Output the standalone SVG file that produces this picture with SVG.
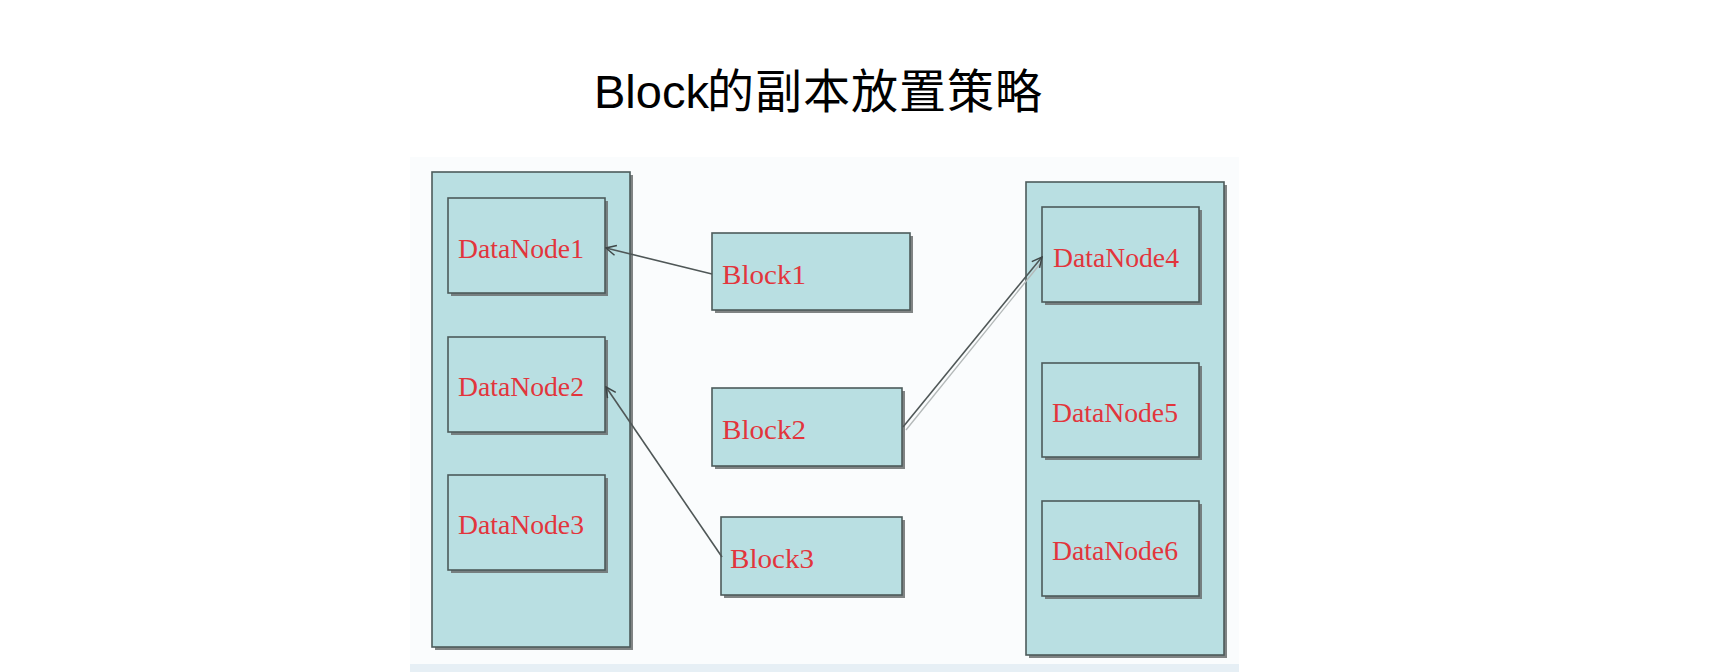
<svg xmlns="http://www.w3.org/2000/svg" width="1736" height="672" viewBox="0 0 1736 672">
<style>
.box{fill:#b9dfe2;stroke:#4d5b5b;stroke-width:1.6}
.shadow{fill:#6a6f6f;opacity:0.85}
.lbl{font-family:"Liberation Serif","DejaVu Serif",serif;font-size:28px;fill:#e2353c}
.edge{stroke:#4f5757;stroke-width:1.6;fill:none}
.title{font-family:"Liberation Sans","Noto Sans CJK SC",sans-serif;fill:#000}
</style>
<defs>
<marker id="arr" viewBox="0 0 12 12" refX="11" refY="6" markerWidth="12" markerHeight="12" markerUnits="userSpaceOnUse" orient="auto">
<path d="M1,1 L11,6 L1,11" fill="none" stroke="#3f4747" stroke-width="1.5"/>
</marker>
</defs>
<rect x="0" y="0" width="1736" height="672" fill="#ffffff"/>
<rect x="410" y="157" width="829" height="515" fill="#fafcfd"/>
<rect x="410" y="664" width="829" height="8" fill="#e6eff5"/>
<text class="title" x="594" y="108" font-size="47">Block</text>
<text class="title" y="108" font-size="47" font-family="'Noto Sans CJK SC',sans-serif" x="707 755 803 851 899 947 995">的副本放置策略</text>

<g id="rack1">
<rect class="shadow" x="435" y="175" width="198" height="475"/>
<rect class="box" x="432" y="172" width="198" height="475"/>
</g>
<g id="rack2">
<rect class="shadow" x="1029" y="185" width="198" height="473"/>
<rect class="box" x="1026" y="182" width="198" height="473"/>
</g>
<g id="datanode1">
<rect class="shadow" x="451" y="201" width="157" height="95"/>
<rect class="box" x="448" y="198" width="157" height="95"/>
<text class="lbl" x="458" y="258" textLength="126" lengthAdjust="spacingAndGlyphs">DataNode1</text>
</g>
<g id="datanode2">
<rect class="shadow" x="451" y="340" width="157" height="95"/>
<rect class="box" x="448" y="337" width="157" height="95"/>
<text class="lbl" x="458" y="396" textLength="126" lengthAdjust="spacingAndGlyphs">DataNode2</text>
</g>
<g id="datanode3">
<rect class="shadow" x="451" y="478" width="157" height="95"/>
<rect class="box" x="448" y="475" width="157" height="95"/>
<text class="lbl" x="458" y="534" textLength="126" lengthAdjust="spacingAndGlyphs">DataNode3</text>
</g>
<g id="datanode4">
<rect class="shadow" x="1045" y="210" width="157" height="95"/>
<rect class="box" x="1042" y="207" width="157" height="95"/>
<text class="lbl" x="1053" y="267" textLength="126" lengthAdjust="spacingAndGlyphs">DataNode4</text>
</g>
<g id="datanode5">
<rect class="shadow" x="1045" y="366" width="157" height="94"/>
<rect class="box" x="1042" y="363" width="157" height="94"/>
<text class="lbl" x="1052" y="422" textLength="126" lengthAdjust="spacingAndGlyphs">DataNode5</text>
</g>
<g id="datanode6">
<rect class="shadow" x="1045" y="504" width="157" height="95"/>
<rect class="box" x="1042" y="501" width="157" height="95"/>
<text class="lbl" x="1052" y="560" textLength="126" lengthAdjust="spacingAndGlyphs">DataNode6</text>
</g>
<g id="block1">
<rect class="shadow" x="715" y="236" width="198" height="77"/>
<rect class="box" x="712" y="233" width="198" height="77"/>
<text class="lbl" x="722" y="284" textLength="84" lengthAdjust="spacingAndGlyphs">Block1</text>
</g>
<g id="block2">
<rect class="shadow" x="715" y="391" width="190" height="78"/>
<rect class="box" x="712" y="388" width="190" height="78"/>
<text class="lbl" x="722" y="439" textLength="84" lengthAdjust="spacingAndGlyphs">Block2</text>
</g>
<g id="block3">
<rect class="shadow" x="724" y="520" width="181" height="78"/>
<rect class="box" x="721" y="517" width="181" height="78"/>
<text class="lbl" x="730" y="568" textLength="84" lengthAdjust="spacingAndGlyphs">Block3</text>
</g>

<g id="connectors">
<line class="edge" x1="712" y1="274" x2="606" y2="248" marker-end="url(#arr)"/>
<line class="edge" x1="722" y1="557" x2="606" y2="387" marker-end="url(#arr)"/>
<line x1="906" y1="430" x2="1040" y2="264" stroke="#b4b9b9" stroke-width="1.4"/>
<line class="edge" x1="903" y1="427" x2="1042" y2="257" marker-end="url(#arr)"/>
</g>
</svg>
